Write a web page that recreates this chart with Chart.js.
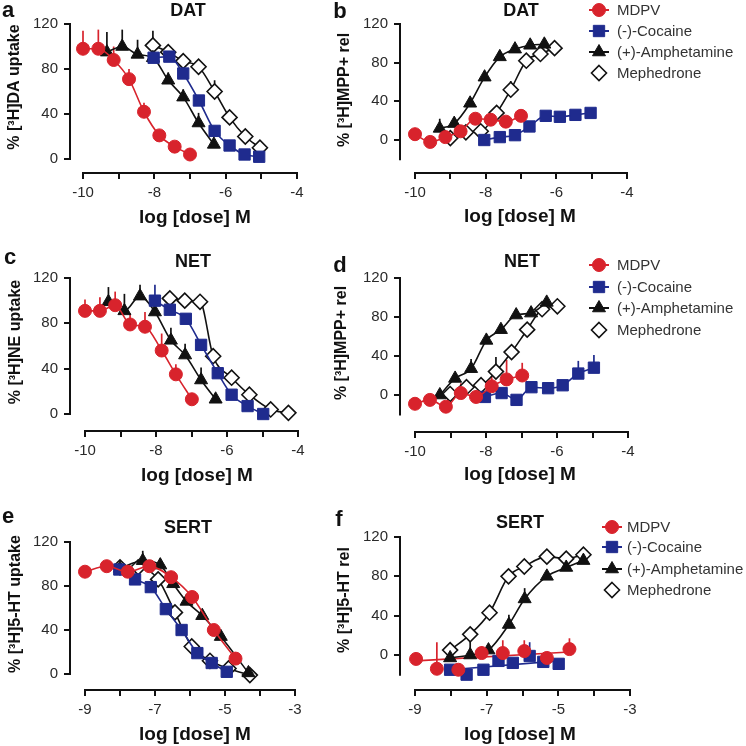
<!DOCTYPE html>
<html>
<head>
<meta charset="utf-8">
<script src="https://cdn.jsdelivr.net/npm/chart.js@4/dist/chart.umd.min.js"></script>
<style>
  html, body { margin: 0; padding: 0; background: #fff; }
  #wrap { position: relative; width: 746px; height: 746px; overflow: hidden; }
  #wrap canvas { position: absolute; left: 0; top: 0; }
</style>
</head>
<body>
<div id="wrap">
  <canvas id="pa" width="746" height="746"></canvas>
  <canvas id="pb" width="746" height="746"></canvas>
  <canvas id="pc" width="746" height="746"></canvas>
  <canvas id="pd" width="746" height="746"></canvas>
  <canvas id="pe" width="746" height="746"></canvas>
  <canvas id="pf" width="746" height="746"></canvas>
</div>
<script>
// series: MDPV, (-)-Cocaine, (+)-Amphetamine, Mephedrone
const seriesNames = ['MDPV', '(-)-Cocaine', '(+)-Amphetamine', 'Mephedrone'];

// ticks
const yTicks = [0, 40, 80, 120];
const xTicksDose = [-10, -9, -8, -7, -6, -5, -4];
const xLabelsDose = [-10, -8, -6, -4];
const xTicksSert = [-9, -8, -7, -6, -5, -4, -3];
const xLabelsSert = [-9, -7, -5, -3];

// points are [log dose, % value, upper error]
// a: DAT uptake
const aMdpv = [[-10, 98, 16], [-9.57, 98, 17], [-9.14, 88, 12], [-8.71, 71, 9], [-8.29, 42, 8], [-7.86, 21, 3], [-7.43, 11, 2], [-7.0, 4, 0]];
const aCoc  = [[-8.02, 90, 3], [-7.58, 91, 4], [-7.19, 76, 5], [-6.75, 52, 5], [-6.31, 25, 4], [-5.89, 12, 2], [-5.47, 4, 1], [-5.06, 2, 1]];
const aAmph = [[-9.33, 95, 18], [-8.9, 100, 15], [-8.47, 93, 13], [-8.04, 90, 5], [-7.61, 70, 7], [-7.19, 55, 7], [-6.76, 32, 9], [-6.33, 13, 3]];
const aMeph = [[-8.04, 101, 13], [-7.61, 95, 5], [-7.19, 87, 4], [-6.76, 82, 4], [-6.31, 60, 10], [-5.89, 37, 4], [-5.45, 20, 3], [-5.04, 10, 2]];

// b: DAT release
const bMdpv = [[-10, 6, 3], [-9.57, -2, 2], [-9.14, 3, 2], [-8.71, 9, 3], [-8.29, 22, 3], [-7.86, 21, 3], [-7.43, 19, 3], [-7.0, 25, 2]];
const bCoc  = [[-8.04, 0, 1], [-7.6, 3, 2], [-7.17, 5, 4], [-6.76, 14, 3], [-6.3, 25, 3], [-5.9, 24, 3], [-5.46, 26, 5], [-5.03, 28, 3]];
const bAmph = [[-9.3, 12, 10], [-8.89, 17, 3], [-8.44, 38, 2], [-8.03, 65, 2], [-7.6, 86, 2], [-7.17, 94, 2], [-6.74, 98, 2], [-6.34, 99, 2]];
const bMeph = [[-9.0, 2, 3], [-8.56, 8, 2], [-8.14, 9, 2], [-7.69, 28, 5], [-7.29, 52, 9], [-6.85, 82, 4], [-6.45, 89, 3], [-6.05, 95, 2]];

// c: NET uptake
const cMdpv = [[-10, 91, 10], [-9.58, 91, 12], [-9.15, 96, 12], [-8.73, 79, 10], [-8.31, 77, 13], [-7.84, 56, 15], [-7.44, 35, 9], [-6.99, 13, 0]];
const cCoc  = [[-8.03, 100, 14], [-7.61, 92, 4], [-7.16, 84, 3], [-6.73, 61, 3], [-6.26, 36, 3], [-5.87, 17, 2], [-5.42, 7, 2], [-4.98, 0, 1]];
const cAmph = [[-9.34, 99, 13], [-8.89, 91, 15], [-8.45, 104, 10], [-8.03, 90, 5], [-7.58, 65, 11], [-7.18, 52, 10], [-6.73, 30, 11], [-6.32, 13, 2]];
const cMeph = [[-7.61, 102, 3], [-7.19, 100, 3], [-6.76, 99, 3], [-6.39, 51, 4], [-5.87, 32, 3], [-5.37, 17, 3], [-4.77, 4, 2], [-4.27, 1, 1]];

// d: NET release
const dMdpv = [[-10, -9, 2], [-9.58, -5, 6], [-9.13, -12, 2], [-8.71, 2, 10], [-8.28, -2, 3], [-7.84, 9, 10], [-7.42, 16, 20], [-6.98, 20, 13]];
const dCoc  = [[-8.03, -2, 2], [-7.56, 2, 3], [-7.14, -5, 3], [-6.72, 8, 3], [-6.25, 7, 2], [-5.84, 10, 5], [-5.4, 22, 13], [-4.96, 28, 13]];
const dAmph = [[-9.3, 0, 2], [-8.87, 17, 2], [-8.42, 27, 10], [-7.99, 56, 2], [-7.58, 67, 2], [-7.15, 82, 2], [-6.73, 84, 2], [-6.29, 95, 2]];
const dMeph = [[-9.01, 1, 2], [-8.55, 8, 2], [-8.14, 10, 2], [-7.72, 24, 15], [-7.28, 44, 3], [-6.84, 67, 3], [-6.42, 88, 3], [-5.99, 91, 2]];

// e: SERT uptake
const eMdpv = [[-9.0, 93, 2], [-8.38, 98, 2], [-7.78, 93, 2], [-7.16, 98, 3], [-6.54, 88, 2], [-5.94, 70, 2], [-5.32, 40, 2], [-4.7, 14, 5]];
const eCoc  = [[-8.02, 95, 3], [-7.57, 86, 2], [-7.12, 79, 2], [-6.69, 59, 2], [-6.24, 40, 2], [-5.79, 19, 2], [-5.38, 10, 2], [-4.95, 2, 1]];
const eAmph = [[-8.0, 96, 3], [-7.35, 103, 9], [-6.85, 99, 6], [-6.48, 82, 3], [-6.1, 66, 3], [-5.65, 53, 3], [-5.12, 34, 3], [-4.33, 1, 1]];
const eMeph = [[-8.0, 97, 3], [-7.48, 97, 5], [-6.91, 86, 3], [-6.43, 56, 3], [-5.95, 25, 2], [-5.43, 12, 2], [-4.9, 5, 1], [-4.29, -1, 1]];

// f: SERT release
const fMdpv = [[-8.97, -4, 2], [-8.39, -14, 27], [-7.79, -15, 2], [-7.14, 2, 7], [-6.55, 2, 13], [-5.95, 4, 11], [-5.32, -3, 2], [-4.69, 6, 11]];
const fCoc  = [[-8.02, -15, 3], [-7.56, -20, 2], [-7.09, -15, 3], [-6.67, -6, 7], [-6.27, -8, 3], [-5.8, -1, 14], [-5.42, -7, 3], [-4.99, -9, 3]];
const fAmph = [[-8.02, -3, 8], [-7.46, 0, 14], [-6.95, 5, 3], [-6.38, 31, 10], [-5.94, 57, 11], [-5.32, 80, 3], [-4.78, 89, 3], [-4.3, 96, 3]];
const fMeph = [[-8.02, 5, 3], [-7.46, 21, 3], [-6.92, 43, 3], [-6.39, 80, 3], [-5.95, 90, 3], [-5.32, 100, 3], [-4.78, 98, 3], [-4.3, 102, 3]];
// f: flat fitted lines (MDPV, cocaine)
const fMdpvFit = [[-8.97, -6], [-4.69, 3]];
const fCocFit  = [[-8.02, -15], [-4.99, -6]];

const FONT = '"Liberation Sans", Arial, Helvetica, sans-serif';
const seriesColors = ['#d8232c', '#1f2b8e', '#111111', '#111111'];
const seriesFills  = ['#d8232c', '#1f2b8e', '#111111', '#ffffff'];
const seriesShapes = ['circle', 'rect', 'triangle', 'rectRot'];
const seriesSizes  = [6.5, 8, 7.5, 7.5];

function drawMarker(ctx, i, x, y) {
  const r = seriesSizes[i];
  ctx.beginPath();
  if (seriesShapes[i] === 'circle') {
    ctx.arc(x, y, r, 0, Math.PI * 2);
  } else if (seriesShapes[i] === 'rect') {
    const s = r * Math.SQRT1_2;
    ctx.rect(x - s, y - s, 2 * s, 2 * s);
  } else if (seriesShapes[i] === 'triangle') {
    for (let k = 0; k < 3; k++) {
      const a = k * 2 * Math.PI / 3;
      const px = x + Math.sin(a) * r, py = y - Math.cos(a) * r;
      k ? ctx.lineTo(px, py) : ctx.moveTo(px, py);
    }
    ctx.closePath();
  } else {
    ctx.moveTo(x, y - r); ctx.lineTo(x + r, y); ctx.lineTo(x, y + r); ctx.lineTo(x - r, y);
    ctx.closePath();
  }
  ctx.fillStyle = seriesFills[i];
  ctx.fill();
  ctx.lineWidth = i === 3 ? 1.6 : 1;
  ctx.strokeStyle = seriesColors[i];
  ctx.stroke();
}

// fits: optional {seriesIndex: [[x, y], [x, y]]}; that series then shows no joining line
function makePanel(id, series, g, t, fits) {
  fits = fits || {};
  const xFirst = g.xTicks[0], xLast = g.xTicks[g.xTicks.length - 1];
  const pxX = (g.xLastPx - g.xFirstPx) / (xLast - xFirst);
  const pxY = (g.y0Px - g.y120Px) / 120;
  const xMin = xFirst - (g.xFirstPx - g.axisX) / pxX;
  const yMin = 120 - (g.axisY - g.y120Px) / pxY;

  const datasets = series.map((pts, i) => ({
    label: seriesNames[i],
    data: pts.map(p => ({x: p[0], y: p[1]})),
    errs: pts.map(p => p[2]),
    showLine: !fits[i],
    borderColor: seriesColors[i],
    borderWidth: 1.6,
    cubicInterpolationMode: 'monotone',
    pointStyle: seriesShapes[i],
    pointRadius: seriesSizes[i],
    pointBackgroundColor: seriesFills[i],
    pointBorderColor: seriesColors[i],
    pointBorderWidth: i === 3 ? 1.6 : 1,
    clip: false
  }));
  Object.keys(fits).forEach(k => {
    datasets.push({
      label: seriesNames[k] + ' fit',
      data: fits[k].map(p => ({x: p[0], y: p[1]})),
      errs: [],
      showLine: true,
      borderColor: seriesColors[k],
      borderWidth: 1.6,
      pointRadius: 0,
      clip: false
    });
  });

  const axisLines = {
    id: 'axisLines',
    beforeDatasetsDraw(chart) {
      const {ctx, chartArea, scales: {x, y}} = chart;
      ctx.save();
      ctx.strokeStyle = '#111';
      ctx.lineWidth = 2;
      ctx.lineCap = 'square';
      ctx.beginPath();
      ctx.moveTo(chartArea.left, y.getPixelForValue(g.yAxisFrom));
      ctx.lineTo(chartArea.left, y.getPixelForValue(120));
      ctx.moveTo(x.getPixelForValue(xFirst), chartArea.bottom);
      ctx.lineTo(x.getPixelForValue(xLast), chartArea.bottom);
      ctx.stroke();
      // upper error bars, drawn under the markers
      chart.data.datasets.forEach((ds, i) => {
        if (i > 3) return;
        ctx.strokeStyle = seriesColors[i];
        ctx.lineWidth = 1.7;
        ctx.lineCap = 'butt';
        ds.data.forEach((p, k) => {
          if (!ds.errs[k]) return;
          const px = x.getPixelForValue(p.x);
          ctx.beginPath();
          ctx.moveTo(px, y.getPixelForValue(p.y));
          ctx.lineTo(px, y.getPixelForValue(p.y + ds.errs[k]));
          ctx.stroke();
        });
      });
      ctx.restore();
    }
  };

  const panelText = {
    id: 'panelText',
    afterDraw(chart) {
      const ctx = chart.ctx;
      ctx.save();
      ctx.fillStyle = '#111';
      ctx.textAlign = 'center';
      ctx.textBaseline = 'middle';
      ctx.font = 'bold 22px ' + FONT;
      ctx.fillText(t.letter, t.letterX, t.letterY);
      ctx.font = 'bold 18px ' + FONT;
      ctx.fillText(t.title, t.titleX, t.titleY);
      ctx.font = 'bold 19px ' + FONT;
      ctx.fillText('log [dose] M', t.xTitleX, t.xTitleY);
      ctx.save();
      ctx.translate(t.yTitleX, t.yTitleY);
      ctx.rotate(-Math.PI / 2);
      ctx.font = 'bold 16px ' + FONT;
      ctx.fillText(t.yTitle, 0, 0);
      ctx.restore();
      if (t.legendY) {
        ctx.font = '15px ' + FONT;
        ctx.textAlign = 'left';
        chart.data.datasets.slice(0, 4).forEach((ds, i) => {
          const ly = t.legendY[i];
          if (i < 3) {
            ctx.strokeStyle = seriesColors[i];
            ctx.lineWidth = 2;
            ctx.beginPath();
            ctx.moveTo(t.legendX - 10, ly);
            ctx.lineTo(t.legendX + 10, ly);
            ctx.stroke();
          }
          drawMarker(ctx, i, t.legendX, ly);
          ctx.fillStyle = '#333';
          ctx.fillText(ds.label, t.legendTextX, ly + 1);
        });
      }
      ctx.restore();
    }
  };

  return new Chart(document.getElementById(id), {
    type: 'scatter',
    data: {datasets: datasets},
    options: {
      responsive: false,
      animation: false,
      events: [],
      layout: {padding: {left: g.axisX - 50, top: g.y120Px, right: 746 - g.xLastPx, bottom: 746 - g.axisY - 40}},
      plugins: {legend: {display: false}, title: {display: false}, tooltip: {enabled: false}},
      scales: {
        x: {
          type: 'linear', min: xMin, max: xLast, bounds: 'data',
          afterFit: s => { s.height = 40; },
          afterBuildTicks: s => { s.ticks = g.xTicks.map(v => ({value: v})); },
          grid: {drawOnChartArea: false, drawTicks: true, tickLength: 6, color: '#111', lineWidth: 2},
          border: {display: false},
          ticks: {
            autoSkip: false, maxRotation: 0, padding: 5, color: '#2a2a2a',
            font: {family: FONT, size: 15},
            callback: v => g.xLabels.includes(v) ? String(v) : ''
          }
        },
        y: {
          type: 'linear', min: yMin, max: 120, bounds: 'data',
          afterFit: s => { s.width = 50; },
          afterBuildTicks: s => { s.ticks = yTicks.map(v => ({value: v})); },
          grid: {drawOnChartArea: false, drawTicks: true, tickLength: 6, color: '#111', lineWidth: 2},
          border: {display: false},
          ticks: {padding: 6, color: '#2a2a2a', font: {family: FONT, size: 15}, callback: v => String(v)}
        }
      }
    },
    plugins: [axisLines, panelText]
  });
}

makePanel('pa', [aMdpv, aCoc, aAmph, aMeph],
  {axisX: 70, xFirstPx: 83, xLastPx: 297, y120Px: 24, y0Px: 159, axisY: 173, yAxisFrom: 0, xTicks: xTicksDose, xLabels: xLabelsDose},
  {letter: 'a', letterX: 8, letterY: 11, title: 'DAT', titleX: 188, titleY: 11,
   xTitleX: 195, xTitleY: 218, yTitle: '% [³H]DA uptake', yTitleX: 15, yTitleY: 87});

makePanel('pb', [bMdpv, bCoc, bAmph, bMeph],
  {axisX: 400, xFirstPx: 415, xLastPx: 627, y120Px: 24, y0Px: 140, axisY: 173, yAxisFrom: -20, xTicks: xTicksDose, xLabels: xLabelsDose},
  {letter: 'b', letterX: 340, letterY: 12, title: 'DAT', titleX: 521, titleY: 11,
   xTitleX: 520, xTitleY: 217, yTitle: '% [³H]MPP+ rel', yTitleX: 345, yTitleY: 90,
   legendX: 599, legendTextX: 617, legendY: [10, 31, 52, 73]});

makePanel('pc', [cMdpv, cCoc, cAmph, cMeph],
  {axisX: 70, xFirstPx: 85, xLastPx: 298, y120Px: 278, y0Px: 414, axisY: 431, yAxisFrom: 0, xTicks: xTicksDose, xLabels: xLabelsDose},
  {letter: 'c', letterX: 10, letterY: 258, title: 'NET', titleX: 193, titleY: 262,
   xTitleX: 197, xTitleY: 476, yTitle: '% [³H]NE uptake', yTitleX: 16, yTitleY: 342});

makePanel('pd', [dMdpv, dCoc, dAmph, dMeph],
  {axisX: 400, xFirstPx: 415, xLastPx: 628, y120Px: 278, y0Px: 395, axisY: 432, yAxisFrom: -20, xTicks: xTicksDose, xLabels: xLabelsDose},
  {letter: 'd', letterX: 340, letterY: 266, title: 'NET', titleX: 522, titleY: 262,
   xTitleX: 520, xTitleY: 475, yTitle: '% [³H]MPP+ rel', yTitleX: 342, yTitleY: 343,
   legendX: 599, legendTextX: 617, legendY: [265, 287, 308, 330]});

makePanel('pe', [eMdpv, eCoc, eAmph, eMeph],
  {axisX: 70, xFirstPx: 85, xLastPx: 295, y120Px: 542, y0Px: 674, axisY: 690, yAxisFrom: 0, xTicks: xTicksSert, xLabels: xLabelsSert},
  {letter: 'e', letterX: 8, letterY: 517, title: 'SERT', titleX: 188, titleY: 528,
   xTitleX: 195, xTitleY: 735, yTitle: '% [³H]5-HT uptake', yTitleX: 16, yTitleY: 604});

makePanel('pf', [fMdpv, fCoc, fAmph, fMeph],
  {axisX: 400, xFirstPx: 415, xLastPx: 630, y120Px: 537, y0Px: 655, axisY: 690, yAxisFrom: -20, xTicks: xTicksSert, xLabels: xLabelsSert},
  {letter: 'f', letterX: 339, letterY: 520, title: 'SERT', titleX: 520, titleY: 523,
   xTitleX: 520, xTitleY: 735, yTitle: '% [³H]5-HT rel', yTitleX: 345, yTitleY: 600,
   legendX: 612, legendTextX: 627, legendY: [527, 547, 569, 590]},
  {0: fMdpvFit, 1: fCocFit});
</script>
</body>
</html>
